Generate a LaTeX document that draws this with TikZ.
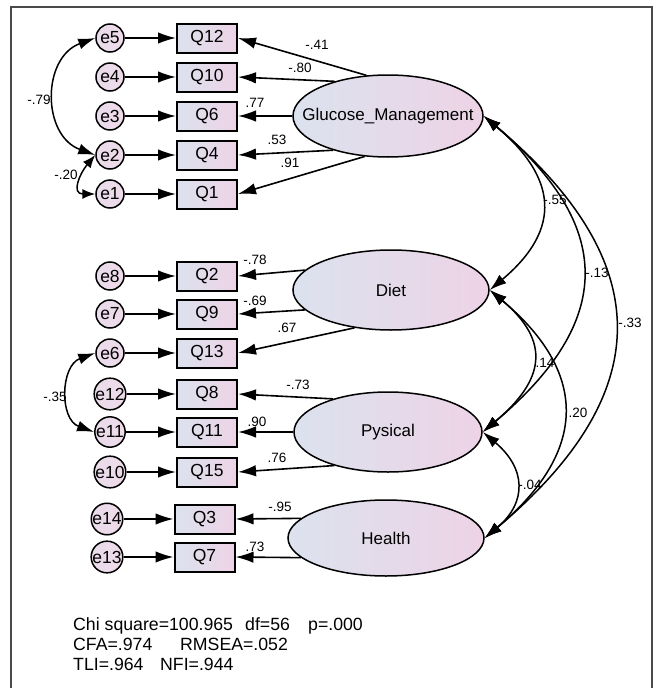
\documentclass[tikz,border=0pt]{standalone}
\usepackage{fontspec}
\setmainfont{Liberation Sans}
\usetikzlibrary{arrows.meta,shapes.geometric}
\definecolor{lblue}{HTML}{DCE2EE}
\definecolor{lpink}{HTML}{EDD3E6}
\definecolor{cpink}{HTML}{EEDAE9}
\definecolor{framegray}{HTML}{4A4A4A}
\begin{document}
\begin{tikzpicture}[x=1pt,y=-1pt,
  load/.style={line width=1.6pt,-{Latex[length=18pt,width=11.5pt]}},
  cov/.style={line width=1.5pt,{Latex[length=17pt,width=11pt]}-{Latex[length=17pt,width=11pt]}},
  smallcov/.style={line width=1.5pt,{Latex[length=13pt,width=10pt]}-{Latex[length=13pt,width=10pt]}},
  obs/.style={draw=black, line width=2pt, minimum width=60pt, minimum height=29pt, inner sep=0pt, left color=lblue, right color=lpink, font=\fontsize{17.5}{20}\selectfont},
  err/.style={circle, draw=black, line width=1.5pt, minimum size=28pt, inner sep=0pt, left color=cpink!75!lblue, right color=cpink, font=\fontsize{17.5}{20}\selectfont},
  lat/.style={ellipse, draw=black, line width=1.5pt, inner sep=0pt, left color=lblue, right color=lpink},
  lattext/.style={font=\fontsize{17}{20}\selectfont},
  coef/.style={inner sep=0pt, font=\fontsize{13.5}{15}\selectfont},
  fitstat/.style={anchor=base west, inner sep=0pt, font=\fontsize{17.7}{20}\selectfont}
]
\useasboundingbox (0,0) rectangle (657,688);
\fill[white] (0,0) rectangle (657,688);
\draw[framegray, line width=1.2pt] (11,690) -- (11,7) -- (652,7) -- (652,690);

% latent variables
\node[lat, minimum width=190pt, minimum height=82pt, label={[lattext]center:Glucose\_Management}] (gm) at (388,116) {};
\node[lat, minimum width=196pt, minimum height=80pt, label={[lattext]center:Diet}] (diet) at (391,290) {};
\node[lat, minimum width=188pt, minimum height=80pt, label={[lattext]center:Pysical}] (pys) at (388,432) {};
\node[lat, minimum width=196pt, minimum height=76pt, label={[lattext]center:Health}] (hea) at (386,538) {};

% observed variables
\node[obs] (Q12) at (207,38) {Q12};
\node[obs] (Q10) at (207,77) {Q10};
\node[obs] (Q6)  at (207,116) {Q6};
\node[obs] (Q4)  at (207,155) {Q4};
\node[obs] (Q1)  at (207,194) {Q1};
\node[obs] (Q2)  at (207,276) {Q2};
\node[obs] (Q9)  at (207,314) {Q9};
\node[obs] (Q13) at (207,353) {Q13};
\node[obs] (Q8)  at (207,394) {Q8};
\node[obs] (Q11) at (207,432) {Q11};
\node[obs] (Q15) at (207,472) {Q15};
\node[obs] (Q3)  at (204.5,519) {Q3};
\node[obs] (Q7)  at (204.5,557) {Q7};

% error terms
\node[err] (e5) at (110,38) {e5};
\node[err] (e4) at (110,77) {e4};
\node[err] (e3) at (110,116) {e3};
\node[err] (e2) at (110,155) {e2};
\node[err] (e1) at (110,194) {e1};
\node[err] (e8) at (110,276) {e8};
\node[err] (e7) at (110,314) {e7};
\node[err] (e6) at (110,353) {e6};
\node[err] (e12) at (110,394) {e12};
\node[err] (e11) at (110,432) {e11};
\node[err] (e10) at (110,472) {e10};
\node[err] (e14) at (107,519) {e14};
\node[err] (e13) at (107,557) {e13};

% error -> item
\foreach \e/\q in {e5/Q12,e4/Q10,e3/Q6,e2/Q4,e1/Q1,e8/Q2,e7/Q9,e6/Q13,e12/Q8,e11/Q11,e10/Q15,e14/Q3,e13/Q7}
  \draw[load] (\e.east) -- (\q.west);

% loadings
\draw[load] (gm.118) -- (Q12.east);
\draw[load] (gm.147) -- (Q10.east);
\draw[load] (gm.180) -- (Q6.east);
\draw[load] (gm.212) -- (Q4.east);
\draw[load] (gm.240) -- (Q1.east);
\draw[load] (diet.167) -- (Q2.east);
\draw[load] (diet.193) -- (Q9.east);
\draw[load] (diet.226) -- (Q13.east);
\draw[load] (pys.149) -- (Q8.east);
\draw[load] (pys.180) -- (Q11.east);
\draw[load] (pys.212) -- (Q15.east);
\draw[load] (hea.167) -- (Q3.east);
\draw[load] (hea.193) -- (Q7.east);

% covariances among latents
\draw[cov] (gm.east) to[out=-40,in=40,looseness=1.4] (diet.east);
\draw[cov] (gm.east) to[out=-40,in=40,looseness=1.39] (pys.east);
\draw[cov] (gm.east) to[out=-40,in=40,looseness=1.37] (hea.east);
\draw[cov] (diet.east) to[out=-40,in=40,looseness=1.45] (pys.east);
\draw[cov] (diet.east) to[out=-40,in=40,looseness=1.36] (hea.east);
\draw[cov] (pys.east) to[out=-40,in=40,looseness=1.35] (hea.east);

% covariances among errors
\draw[cov] (e5.west) to[out=200,in=160,looseness=1.25] (e2.west);
\draw[smallcov] (e2.west) to[out=230,in=180,looseness=1.6] (e1.west);
\draw[cov] (e6.west) to[out=200,in=160,looseness=1.2] (e11.west);

% coefficient labels
\node[coef] (c1) at (317,45) {-.41};
\node[coef] (c2) at (300,68) {-.80};
\node[coef] (c3) at (255,103) {.77};
\node[coef] (c4) at (277,140) {.53};
\node[coef] (c5) at (290,163) {.91};
\node[coef] (c6) at (255,260) {-.78};
\node[coef] (c7) at (255,301) {-.69};
\node[coef] (c8) at (287,328) {.67};
\node[coef] (c9) at (298,385) {-.73};
\node[coef] (c10) at (257,422) {.90};
\node[coef] (c11) at (277,458) {.76};
\node[coef] (c12) at (280,507) {-.95};
\node[coef] (c13) at (255,547) {.73};
\node[coef] (c14) at (555,200) {-.55};
\node[coef] (c15) at (597,273) {-.13};
\node[coef] (c16) at (630,323) {-.33};
\node[coef] (c17) at (545,363) {.14};
\node[coef] (c18) at (578,413) {.20};
\node[coef] (c19) at (530,485) {-.04};
\node[coef] (c20) at (39,100) {-.79};
\node[coef] (c21) at (66,175) {-.20};
\node[coef] (c22) at (55,397) {-.35};

% fit statistics
\node[fitstat] (f1) at (73,630) {Chi square=100.965};
\node[fitstat] (f2) at (245,630) {df=56};
\node[fitstat] (f3) at (308,630) {p=.000};
\node[fitstat] (f4) at (73,650) {CFA=.974};
\node[fitstat] (f5) at (180,650) {RMSEA=.052};
\node[fitstat] (f6) at (73,670) {TLI=.964};
\node[fitstat] (f7) at (160,670) {NFI=.944};
\end{tikzpicture}
\end{document}
